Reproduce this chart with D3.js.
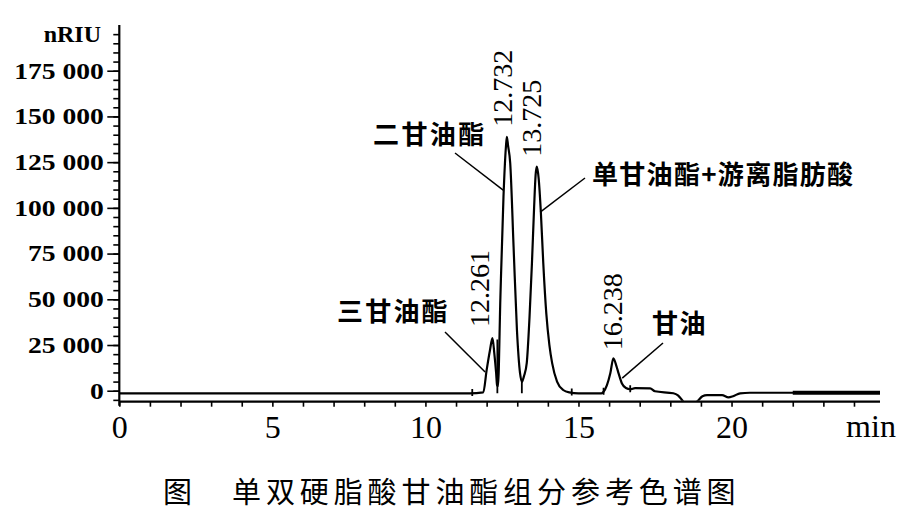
<!DOCTYPE html>
<html><head><meta charset="utf-8">
<script src="https://cdn.jsdelivr.net/npm/d3@7"></script>
<style>body{margin:0;background:#fff}svg{display:block}</style>
</head><body>
<svg id="chart" width="907" height="518"></svg>
<script>
// ---------- data ----------
const sigTime  = [0, 11.45, 11.89, 12.00, 12.11, 12.19, 12.25, 12.31, 12.34, 12.37, 12.45, 12.55, 12.63, 12.66, 12.70, 12.77, 12.88, 12.99, 13.09, 13.15,
                  13.22, 13.31, 13.40, 13.48, 13.55, 13.60, 13.64, 13.70, 13.77, 13.85, 13.95, 14.05, 14.14, 14.30, 14.50, 14.70, 15.00,
                  15.75, 15.82, 15.93, 16.04, 16.14, 16.24, 16.31, 16.42, 16.55, 16.69, 16.85, 17.34, 17.50, 18.10, 18.25, 18.43, 18.60, 18.87,
                  19.05, 19.20, 19.69, 19.90, 20.05, 20.28, 20.60, 22.00, 24.85];
const sigValue = [-1400, -1400, -900, 11300, 22300, 28800, 20600, 9700, 3100, 2500, 51400, 106000, 133400, 138900, 134000, 124500, 78700, 33200, 9700, 4900,
                  8000, 15100, 40000, 69800, 100000, 118000, 122500, 116000, 98000, 69800, 42000, 25000, 15100, 5000, 400, -900, -1400,
                  -1400, -600, 3000, 9500, 17700, 13500, 9500, 4000, 1500, 800, 1400, 1300, -300, -1400, -2500, -6000, -8000, -6000,
                  -3000, -2350, -2350, -3600, -3000, -1400, -1100, -1100, -1100];
const noiseFrom = 22.0;                 // baseline noise (thick trace) from this time on
const baselineValue = -1400;
const markTimes = [11.53, 14.78, 15.82, 16.69];   // integration marks
const dropTimes = [12.35, 13.15];                 // drop lines
const dropTops  = [28000, 4900];

const peakTimes  = [12.19, 12.66, 13.64, 16.14];
const peakValues = [28800, 138900, 122500, 17700];
const peakLabels = ["12.261", "12.732", "13.725", "16.238"];

const annTexts = ["三甘油酯", "二甘油酯", "单甘油酯+游离脂肪酸", "甘油"];
const annTargetTime  = [11.95, 12.54, 13.75, 16.43];
const annTargetValue = [10200, 109750, 97700, 6900];

const yMajor = [0, 25000, 50000, 75000, 100000, 125000, 150000, 175000];
const yTickLabels = ["0", "25 000", "50 000", "75 000", "100 000", "125 000", "150 000", "175 000"];
const yMinor = d3.range(-5000, 195001, 5000);
const xTicks = d3.range(0, 25, 1);
const xLabelValues = [0, 5, 10, 15, 20];
const xTickLabels = ["0", "5", "10", "15", "20"];
const yUnit = "nRIU", xUnit = "min";
const caption1 = "图", caption2 = "单双硬脂酸甘油酯组分参考色谱图";

// ---------- layout ----------
const svg = d3.select("#chart");
const x = d3.scaleLinear().domain([0, 24.85]).range([119.3, 880]);
const y = d3.scaleLinear().domain([-6000, 200000]).range([401.7, 25]);
const serif = "'Liberation Serif','Times New Roman',serif";
const cjk = "'Noto Sans CJK SC','Noto Sans CJK JP',sans-serif";
const labelShift = [[-13, -11], [-4, -10], [-5, -10], [-1, -8]];
const annLayout = [
  {tx: 337, ty: 321, sp: 2.2, lx: 445, ly: 332},
  {tx: 373, ty: 143.5, sp: 2.4, lx: 455, ly: 153},
  {tx: 592, ty: 183.5, sp: 1.3, lx: 585, ly: 178},
  {tx: 652, ty: 332.5, sp: 1.5, lx: 663, ly: 343}
];

svg.append("defs").append("clipPath").attr("id", "plot")
  .append("rect").attr("x", x.range()[0]).attr("y", y.range()[1])
  .attr("width", x.range()[1] - x.range()[0]).attr("height", y.range()[0] - y.range()[1] - 1);

// ---------- axes ----------
const yAxisMinor = d3.axisLeft(y).tickValues(yMinor).tickSize(6).tickFormat("");
const yAxisMajor = d3.axisLeft(y).tickValues(yMajor).tickSize(12).tickPadding(3)
  .tickFormat((d, i) => yTickLabels[i]);
const gy1 = svg.append("g").attr("transform", `translate(${x(0)},0)`).call(yAxisMinor);
const gy2 = svg.append("g").attr("transform", `translate(${x(0)},0)`).call(yAxisMajor);
[gy1, gy2].forEach(g => { g.select(".domain").remove(); g.selectAll("line").attr("stroke", "#000").attr("stroke-width", 1.6); });
gy2.selectAll("text").attr("font-family", serif).attr("font-weight", "bold").attr("font-size", 23)
  .attr("fill", "#000").attr("x", -15.5 / 1.2).attr("transform", "scale(1.2,1)");

const xAxis = d3.axisBottom(x).tickValues(xTicks).tickSize(5)
  .tickFormat(d => { const k = xLabelValues.indexOf(d); return k >= 0 ? xTickLabels[k] : ""; }).tickPadding(9);
const gx = svg.append("g").attr("transform", `translate(0,${y.range()[0]})`).call(xAxis);
gx.select(".domain").remove();
gx.selectAll("line").attr("stroke", "#000").attr("stroke-width", 1.6);
gx.selectAll("text").attr("font-family", serif).attr("font-size", 32).attr("fill", "#000");

svg.append("line").attr("x1", x(0)).attr("x2", x(0)).attr("y1", y.range()[1]).attr("y2", y.range()[0] + 4)
  .attr("stroke", "#000").attr("stroke-width", 2.2);
svg.append("line").attr("x1", x(0)).attr("x2", x.range()[1]).attr("y1", y.range()[0]).attr("y2", y.range()[0])
  .attr("stroke", "#000").attr("stroke-width", 2.2);

svg.append("text").text(yUnit).attr("x", 101).attr("y", 42).attr("text-anchor", "end")
  .attr("font-family", serif).attr("font-weight", "bold").attr("font-size", 24);
svg.append("text").text(xUnit).attr("x", 871).attr("y", 437).attr("text-anchor", "middle")
  .attr("font-family", serif).attr("font-size", 32);

// ---------- signal ----------
const pts = sigTime.map((t, i) => [t, sigValue[i]]);
const line = d3.line().x(d => x(d[0])).y(d => y(d[1])).curve(d3.curveMonotoneX);
const plot = svg.append("g").attr("clip-path", "url(#plot)");
plot.append("path").attr("d", line(pts)).attr("fill", "none").attr("stroke", "#000").attr("stroke-width", 2.2).attr("stroke-linejoin", "round");
plot.append("path").attr("d", line(pts.filter(p => p[0] >= noiseFrom)))
  .attr("fill", "none").attr("stroke", "#000").attr("stroke-width", 4);

const sigAt = t => d3.scaleLinear().domain(sigTime).range(sigValue)(t);
markTimes.forEach(t => {
  plot.append("line").attr("x1", x(t)).attr("x2", x(t)).attr("y1", y(sigAt(t)) - 4).attr("y2", y(sigAt(t)) + 3)
    .attr("stroke", "#000").attr("stroke-width", 1.8);
});
dropTimes.forEach((t, i) => {
  plot.append("line").attr("x1", x(t)).attr("x2", x(t)).attr("y1", y(dropTops[i])).attr("y2", y(baselineValue))
    .attr("stroke", "#000").attr("stroke-width", 1.8);
});

// ---------- peak labels ----------
peakLabels.forEach((lab, i) => {
  const cx = x(peakTimes[i]) + labelShift[i][0];
  const by = y(peakValues[i]) + labelShift[i][1];
  svg.append("text").text(lab)
    .attr("transform", `translate(${cx + 0.34 * 28},${by}) rotate(-90)`)
    .attr("font-family", serif).attr("font-size", 28).attr("fill", "#000");
});

// ---------- annotations ----------
annTexts.forEach((t, i) => {
  const L = annLayout[i];
  svg.append("line").attr("x1", L.lx).attr("y1", L.ly)
    .attr("x2", x(annTargetTime[i])).attr("y2", y(annTargetValue[i]))
    .attr("stroke", "#000").attr("stroke-width", 1.5);
  svg.append("text").text(t).attr("x", L.tx).attr("y", L.ty)
    .attr("font-family", cjk).attr("font-weight", "bold").attr("font-size", 26)
    .attr("letter-spacing", L.sp).attr("fill", "#000");
});

// ---------- caption ----------
svg.append("text").text(caption1).attr("x", 163).attr("y", 503)
  .attr("font-family", cjk).attr("font-size", 29).attr("fill", "#000");
svg.append("text").text(caption2).attr("x", 232).attr("y", 503)
  .attr("font-family", cjk).attr("font-size", 29).attr("letter-spacing", 4.9).attr("fill", "#000");
</script>
</body></html>
